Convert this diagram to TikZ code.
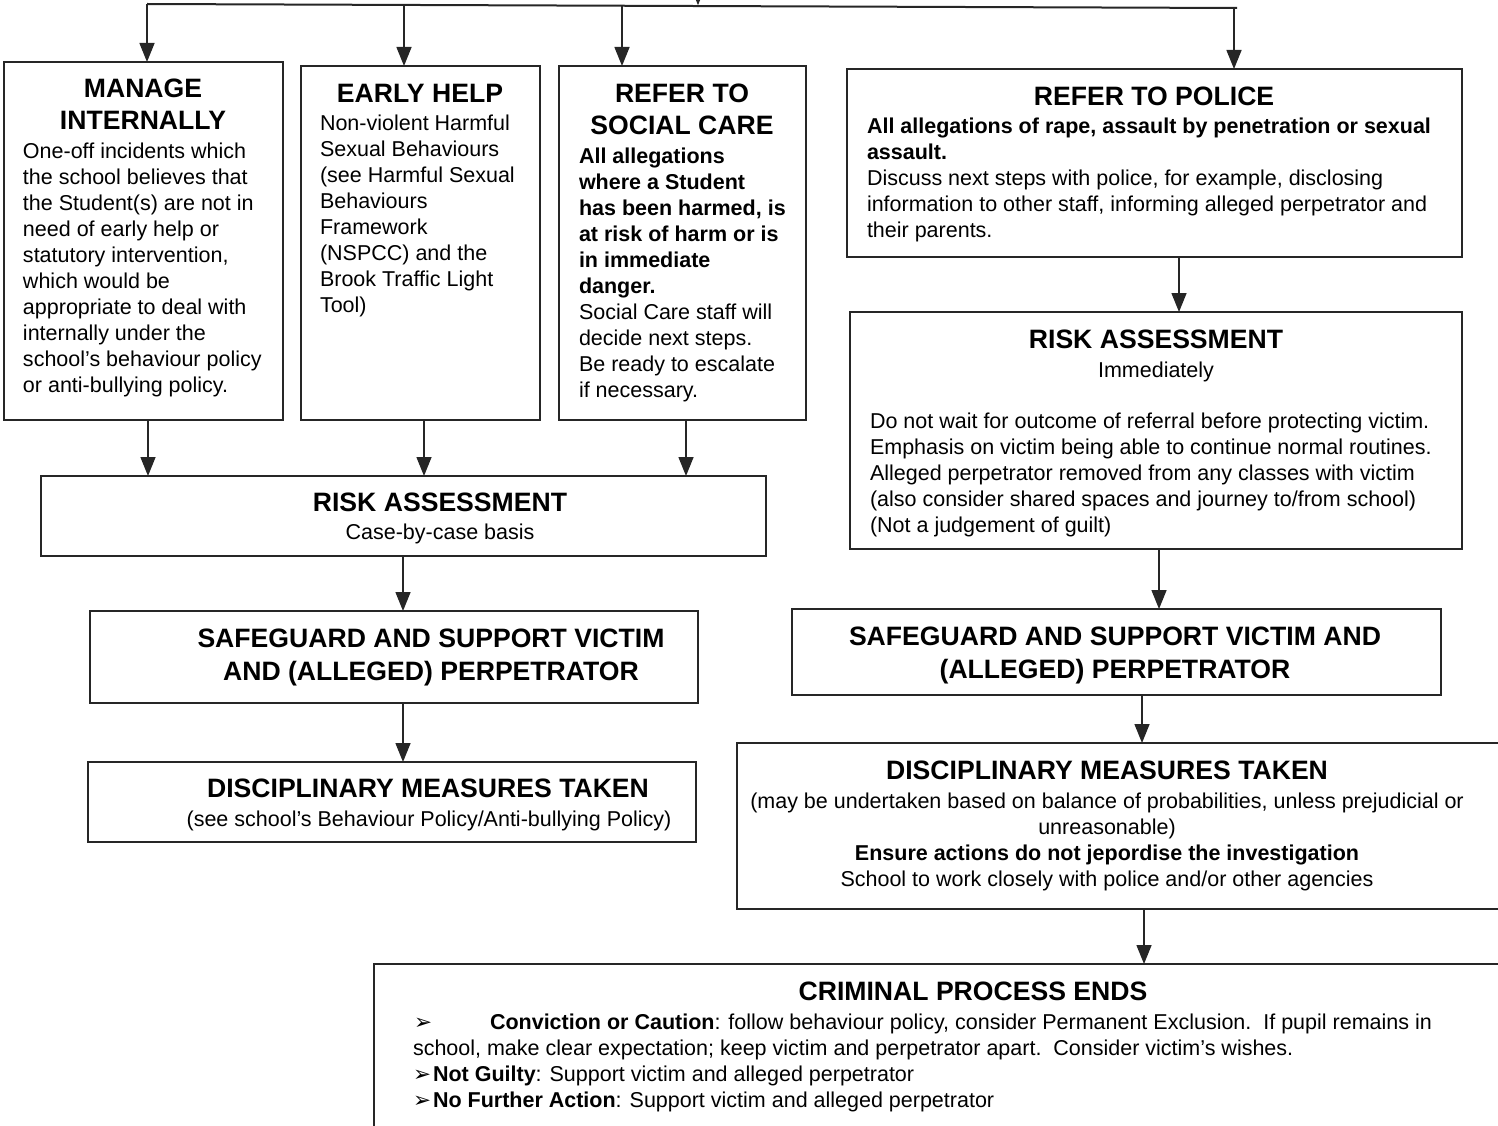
\documentclass[tikz,border=0pt]{standalone}
\usepackage{fontspec}
\setmainfont{Liberation Sans}
\newfontfamily\dvfont{DejaVu Sans}
\usetikzlibrary{arrows.meta,calc}
\begin{document}
\begin{tikzpicture}[x=1pt,y=-1pt,
  box/.style={draw=black!85, line width=2pt, rectangle, inner sep=0pt, outer sep=0pt, anchor=north west},
  arr/.style={draw=black!85, line width=1.5pt, -{Triangle[width=15pt,length=19pt]}},
  txt/.style={inner sep=0pt, outer sep=0pt, align=left, anchor=base west, font=\fontsize{21.5}{26.1}\selectfont},
  ctxt/.style={txt, align=center, anchor=base},
  head/.style={inner sep=0pt, outer sep=0pt, align=center, anchor=base, font=\fontsize{26.6}{32.5}\selectfont\bfseries},
  bul/.style={txt, font=\dvfont\fontsize{21.5}{26}\selectfont}]
\useasboundingbox (0,0) rectangle (1498,1126);
\clip (0,0) rectangle (1498,1126);

% boxes
\node[box, minimum width=279, minimum height=358] (mi) at (4,62) {};
\node[box, minimum width=239, minimum height=354] (eh) at (301,66) {};
\node[box, minimum width=247, minimum height=354] (sc) at (559,66) {};
\node[box, minimum width=615, minimum height=188] (po) at (847,69) {};
\node[box, minimum width=612, minimum height=237] (rar) at (850,312) {};
\node[box, minimum width=725, minimum height=80] (ral) at (41,476) {};
\node[box, minimum width=608, minimum height=92] (sgl) at (90,611) {};
\node[box, minimum width=608, minimum height=80] (dcl) at (88,762) {};
\node[box, minimum width=649, minimum height=86] (sgr) at (792,609) {};
\node[box, minimum width=800, minimum height=166] (dcr) at (737,743) {};
\node[box, minimum width=1200, minimum height=200] (cr) at (374,964) {};

% top distribution line
\coordinate (a1) at (147,4);
\coordinate (a2) at (404,5);
\coordinate (a3) at (622,5.7);
\coordinate (a4) at (1234,8);
\coordinate (tr) at (1237,8);
\coordinate (topin) at (698,-20);
\coordinate (topjoin) at (698,5.2);
\draw[draw=black!85, line width=2pt] (a1) -- (tr);
\draw[arr] (topin) -- (topjoin);
\draw[arr] (a1) -- (mi.north -| a1);
\draw[arr] (a2) -- (eh.north -| a2);
\draw[arr] (a3) -- (sc.north -| a3);
\draw[arr] (a4) -- (po.north -| a4);

% x positions of lower connectors
\coordinate (c148) at (148,0);
\coordinate (c424) at (424,0);
\coordinate (c686) at (686,0);
\coordinate (c1179) at (1179,0);
\coordinate (c403) at (403,0);
\coordinate (c1159) at (1159,0);
\coordinate (c1142) at (1142,0);
\coordinate (c1144) at (1144,0);
\draw[arr] (mi.south -| c148) -- (ral.north -| c148);
\draw[arr] (eh.south -| c424) -- (ral.north -| c424);
\draw[arr] (sc.south -| c686) -- (ral.north -| c686);
\draw[arr] (po.south -| c1179) -- (rar.north -| c1179);
\draw[arr] (ral.south -| c403) -- (sgl.north -| c403);
\draw[arr] (sgl.south -| c403) -- (dcl.north -| c403);
\draw[arr] (rar.south -| c1159) -- (sgr.north -| c1159);
\draw[arr] (sgr.south -| c1142) -- (dcr.north -| c1142);
\draw[arr] (dcr.south -| c1144) -- (cr.north -| c1144);

% texts (base anchor of a multi-line node = baseline of its last line)
\node[head] (mih) at (143,130) {MANAGE\\INTERNALLY};
\node[txt] (mib) at (23,392.9) {One-off incidents which\\the school believes that\\the Student(s) are not in\\need of early help or\\statutory intervention,\\which would be\\appropriate to deal with\\internally under the\\school’s behaviour policy\\or anti-bullying policy.};

\node[head] (ehh) at (420,102.5) {EARLY HELP};
\node[txt] (ehb) at (320,312.7) {Non-violent Harmful\\Sexual Behaviours\\(see Harmful Sexual\\Behaviours\\Framework\\(NSPCC) and the\\Brook Traffic Light\\Tool)};

\node[head] (sch) at (682,135) {REFER TO\\SOCIAL CARE};
\node[txt] (scb) at (579,397.9) {\textbf{All allegations}\\\textbf{where a Student}\\\textbf{has been harmed, is}\\\textbf{at risk of harm or is}\\\textbf{in immediate}\\\textbf{danger.}\\Social Care staff will\\decide next steps.\\Be ready to escalate\\if necessary.};

\node[head] (poh) at (1154,105.5) {REFER TO POLICE};
\node[txt] (pob) at (867,237.4) {\textbf{All allegations of rape, assault by penetration or sexual}\\\textbf{assault.}\\Discuss next steps with police, for example, disclosing\\information to other staff, informing alleged perpetrator and\\their parents.};

\node[head] (rarh) at (1156,348.5) {RISK ASSESSMENT};
\node[ctxt] (rars) at (1156,377) {Immediately};
\node[txt] (rarb) at (870,532.4) {Do not wait for outcome of referral before protecting victim.\\Emphasis on victim being able to continue normal routines.\\Alleged perpetrator removed from any classes with victim\\(also consider shared spaces and journey to/from school)\\(Not a judgement of guilt)};

\node[head] (ralh) at (440,511.5) {RISK ASSESSMENT};
\node[ctxt] (rals) at (440,539) {Case-by-case basis};

\node[head] (sglh) at (431,680) {SAFEGUARD AND SUPPORT VICTIM\\AND (ALLEGED) PERPETRATOR};

\node[head] (dclh) at (428,797.5) {DISCIPLINARY MEASURES TAKEN};
\node[ctxt] (dcls) at (429,826) {(see school’s Behaviour Policy/Anti-bullying Policy)};

\node[head] (sgrh) at (1115,678) {SAFEGUARD AND SUPPORT VICTIM AND\\(ALLEGED) PERPETRATOR};

\node[head] (dcrh) at (1107,779.5) {DISCIPLINARY MEASURES TAKEN};
\node[ctxt] (dcrb) at (1107,886.3) {(may be undertaken based on balance of probabilities, unless prejudicial or\\unreasonable)\\\textbf{Ensure actions do not jepordise the investigation}\\School to work closely with police and/or other agencies};

\node[head] (crh) at (973,1000.5) {CRIMINAL PROCESS ENDS};
\node[bul] (crk1) at (414,1029) {➢};
\node[txt] (crl1) at (490,1029) {\textbf{Conviction or Caution}: follow behaviour policy, consider Permanent Exclusion.\ \ If pupil remains in};
\node[txt] (crl2) at (413,1055) {school, make clear expectation; keep victim and perpetrator apart.\ \ Consider victim’s wishes.};
\node[bul] (crk3) at (413,1081) {➢};
\node[txt] (crl3) at (433,1081) {\textbf{Not Guilty}: Support victim and alleged perpetrator};
\node[bul] (crk4) at (413,1107) {➢};
\node[txt] (crl4) at (433,1107) {\textbf{No Further Action}: Support victim and alleged perpetrator};
\end{tikzpicture}
\end{document}
